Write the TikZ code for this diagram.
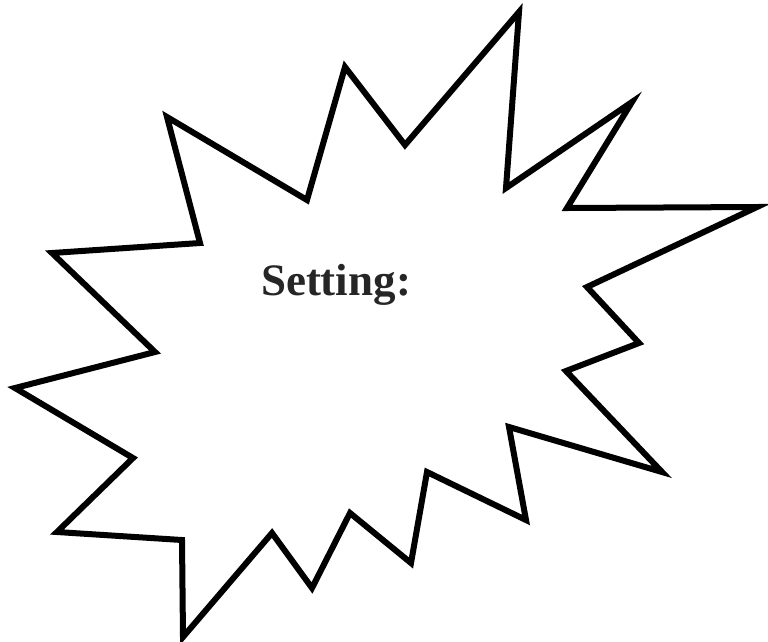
\documentclass[tikz,border=0pt]{standalone}
\usepackage{fontspec}
\setmainfont{Liberation Serif}
\begin{document}
\begin{tikzpicture}[x=1pt,y=-1pt,
  burst/.style={draw=black,line width=6pt,line join=miter,double=none},
  label/.style={font=\bfseries\fontsize{45}{50}\selectfont,text=black!85,inner sep=0pt,anchor=base}]
\useasboundingbox (0,0) rectangle (768,641);
\draw[burst] (52,253) -- (200,243) -- (167,117) -- (307,200) -- (345,67) -- (405,145)
 -- (519,12) -- (506,188) -- (632,102) -- (567,208) -- (757,207) -- (587,287)
 -- (639,343) -- (566,371) -- (662,472) -- (509,427) -- (526,520) -- (427,472)
 -- (411,563) -- (350,513) -- (312,588) -- (272,533) -- (183,637) -- (182,540)
 -- (57,532) -- (133,458) -- (15,388) -- (155,352) -- cycle;
\node[label] (t) at (336,295) {Setting:};
\end{tikzpicture}
\end{document}
